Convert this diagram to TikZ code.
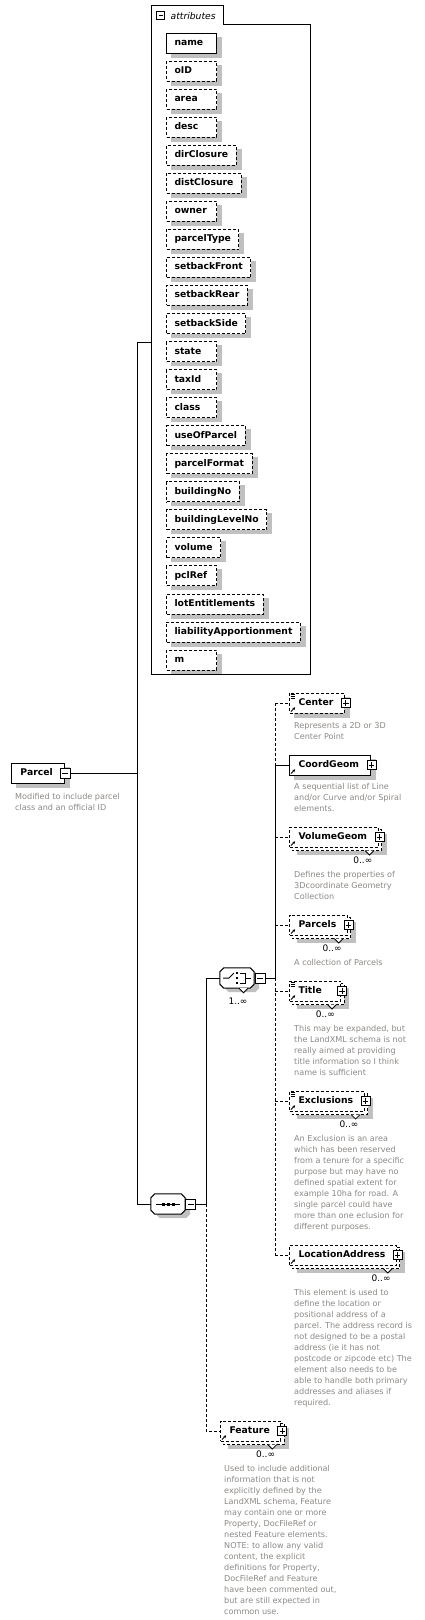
\documentclass[tikz,border=0pt]{standalone}
\usepackage{fontspec}
\setmainfont{DejaVu Sans}
\usetikzlibrary{arrows.meta,calc}
\definecolor{shadowgray}{RGB}{192,192,192}
\definecolor{descgray}{RGB}{140,136,132}
\pgfdeclarelayer{shadowlayer}
\pgfdeclarelayer{backlayer}
\pgfsetlayers{shadowlayer,backlayer,main}
\newsavebox\padbox
\newlength\padlen
\newcommand\padtext[4]{%
  \sbox\padbox{#4}%
  \setlength\padlen{\dimexpr\wd\padbox+#1+#2\relax}%
  \ifdim\padlen<#3\setlength\padlen{#3}\fi
  \hbox to \padlen{\hskip#1\usebox\padbox\hfil}}
\newcommand\lblfont{\bfseries\fontsize{9.25}{11}\selectfont}
\tikzset{
  every node/.style={inner sep=0pt},
  lbl/.style={font=\lblfont, text height=7pt, text depth=2pt, minimum height=20pt,
    anchor=west, fill=white, draw, line width=1pt},
  opt/.style={dash pattern=on 3pt off 2pt},
  conn/.style={line width=1pt},
  optconn/.style={line width=1pt, dash pattern=on 3pt off 2pt},
  desc/.style={font=\fontsize{8.1}{11}\selectfont, text=descgray, align=left, anchor=north west},
  mult/.style={font=\fontsize{9}{11}\selectfont, text height=7pt, text depth=2pt},
  minusbox/.style={draw, fill=white, line width=0.8pt, minimum size=10pt, inner sep=0pt,
    path picture={\draw[line width=1pt] ([xshift=2pt]path picture bounding box.west) -- ([xshift=-2pt]path picture bounding box.east);}},
  plusbox/.style={draw, fill=white, line width=0.8pt, minimum size=9pt, inner sep=0pt,
    path picture={\draw[line width=1pt] ([xshift=1.8pt]path picture bounding box.west) -- ([xshift=-1.8pt]path picture bounding box.east);
      \draw[line width=1pt] ([yshift=-1.8pt]path picture bounding box.north) -- ([yshift=1.8pt]path picture bounding box.south);}},
}
\newcommand\boxshadow[1]{\begin{pgfonlayer}{shadowlayer}\fill[shadowgray] ([shift={(5pt,-4pt)}]#1.north west) rectangle ([shift={(5pt,-4pt)}]#1.south east);\end{pgfonlayer}}
\newcommand\elemnode[5]{%
  \node[lbl,#5] (#1) at (#2,#3) {\padtext{9pt}{11pt}{51pt}{#4}};
  \node[plusbox] (#1p) at ([xshift=1pt]#1.east) {};
  \draw[-{Stealth[length=2.8pt,width=2.8pt]}, line width=0.8pt] ([shift={(2pt,2pt)}]#1.south west) -- ++(4.2pt,4.2pt);}
\newcommand\multiback[2]{%
  \begin{pgfonlayer}{shadowlayer}\fill[shadowgray] ([shift={(8pt,-7pt)}]#1.north west) rectangle ([shift={(8pt,-7pt)}]#1.south east);\end{pgfonlayer}
  \begin{pgfonlayer}{backlayer}
  \draw[line width=1pt, fill=white, #2] ([shift={(3pt,-3pt)}]#1.north west) rectangle ([shift={(3pt,-3pt)}]#1.south east);
  \draw[line width=0.8pt, fill=white] ([shift={(-13.5pt,-3pt)}]#1.south east) -- ++(4.5pt,-4.5pt) -- ++(4.5pt,4.5pt);
  \end{pgfonlayer}
  \node[mult, anchor=east] (#1m) at ([shift={(-6pt,-13pt)}]#1.south east) {0..∞};}
\newcommand\attricon[1]{\draw[line width=0.6pt] ([shift={(1.5pt,-1.5pt)}]#1.north west) -- ++(4.5pt,0pt) ([shift={(1.5pt,-3.5pt)}]#1.north west) -- ++(4.5pt,0pt) ([shift={(1.5pt,-5.5pt)}]#1.north west) -- ++(4.5pt,0pt);}
\newcommand\octa[2]{\draw[#2] ([xshift=4pt]#1.north west) -- ([xshift=-4pt]#1.north east) -- ([yshift=-4pt]#1.north east) -- ([yshift=4pt]#1.south east) -- ([xshift=-4pt]#1.south east) -- ([xshift=4pt]#1.south west) -- ([yshift=4pt]#1.south west) -- ([yshift=-4pt]#1.north west) -- cycle;}
\begin{document}
\begin{tikzpicture}[x=1pt,y=-1pt]
\useasboundingbox (0,0) rectangle (425,1620);
% attributes frame
\node[minimum width=159pt, minimum height=650pt, anchor=north west] (attrs) at (151,24) {};
\draw[line width=1pt] ([yshift=19pt]attrs.north west) -- ([xshift=72pt,yshift=19pt]attrs.north west) -- ([xshift=72pt]attrs.north west) -- (attrs.north east) -- (attrs.south east) -- (attrs.south west) -- cycle;
\node[minusbox, minimum size=8pt] (tabm) at (160.5,15.5) {};
\node[font=\itshape\fontsize{9.2}{11}\selectfont, text height=7pt, text depth=2pt, anchor=west] (tabt) at (170.5,16.5) {attributes};
% attributes
\node[lbl] (a0) at (166,43) {\padtext{8pt}{8pt}{50pt}{name}};
\foreach \t [count=\i] in {oID,area,desc,dirClosure,distClosure,owner,parcelType,setbackFront,setbackRear,setbackSide,state,taxId,class,useOfParcel,parcelFormat,buildingNo,buildingLevelNo,volume,pclRef,lotEntitlements,liabilityApportionment,m}
  {\node[lbl,opt] (a\i) at (166,{43+28.05*\i}) {\padtext{8pt}{8pt}{50pt}{\t}};}
\foreach \i in {0,...,22} {\boxshadow{a\i}}
% Parcel
\node[lbl] (parcel) at (11,773) {\padtext{9pt}{12pt}{51pt}{Parcel}};
\boxshadow{parcel}
\node[minusbox] (parcelm) at (parcel.east) {};
\node[desc] (dparcel) at ([shift={(4pt,-19pt)}]parcel.west) {\strut Modified to include parcel\\class and an official ID};
% junctions
\coordinate (j1top) at (137,342);
\coordinate (j1par) at (137,773);
\coordinate (j1seq) at (137,1204);
\draw[conn] (parcelm.east) -- (j1par);
\draw[conn] (j1top) -- (j1seq);
\draw[conn] (j1top) -- (j1top -| attrs.west);
% sequence
\node[minimum width=34pt, minimum height=20pt] (seq) at (168,1204) {};
\begin{pgfonlayer}{shadowlayer}\octa{seq}{fill=shadowgray, draw=none, transform canvas={shift={(5pt,-4pt)}}}\end{pgfonlayer}
\octa{seq}{fill=white, line width=1pt}
\draw[line width=1pt] (156,1204) -- (180,1204);
\fill (161.5,1202.5) rectangle +(3,3);
\fill (166.5,1202.5) rectangle +(3,3);
\fill (171.5,1202.5) rectangle +(3,3);
\node[minusbox] (seqm) at (190.5,1204) {};
\draw[conn] (j1seq) -- (seq.west);
\coordinate (j2seq) at (206,1204);
\coordinate (j2ch) at (206,978);
\coordinate (j2feat) at (206,1431);
\draw[conn] (seqm.east) -- (j2seq);
% choice
\node[minimum width=34pt, minimum height=20pt] (ch) at (237,978) {};
\begin{pgfonlayer}{shadowlayer}\octa{ch}{fill=shadowgray, draw=none, transform canvas={shift={(5pt,-4pt)}}}\end{pgfonlayer}
\octa{ch}{fill=white, line width=1pt}
\draw[line width=0.8pt, fill=white] ([xshift=2pt]ch.south) -- ++(4.5pt,-4.5pt) -- ++(4.5pt,4.5pt);
\draw[line width=1pt] (223,978) -- (229,978) -- (234,973);
\fill (235.5,971.8) rectangle +(2.6,2.6);
\fill (235.5,976.8) rectangle +(2.6,2.6);
\fill (235.5,981.8) rectangle +(2.6,2.6);
\draw[line width=1pt] (240,973) -- (245,973) -- (245,983) -- (240,983);
\draw[line width=1pt] (245,978) -- (251,978);
\node[minusbox] (chm) at (260,978) {};
\node[mult] (chmult) at (238,1002) {1..∞};
\draw[conn] (j2seq) -- (j2ch) -- (ch.west);
\coordinate (j3ch) at (275,978);
\draw[conn] (chm.east) -- (j3ch);
% children of choice
\elemnode{center}{289}{703}{Center}{opt}
\boxshadow{center}
\attricon{center}
\node[desc] (dcenter) at ([shift={(5pt,-18pt)}]center.west) {\strut Represents a 2D or 3D\\Center Point};

\elemnode{coord}{289}{765}{CoordGeom}{}
\boxshadow{coord}
\node[desc] (dcoord) at ([shift={(5pt,-17pt)}]coord.west) {\strut A sequential list of Line\\and/or Curve and/or Spiral\\elements.};

\elemnode{vol}{289}{837}{VolumeGeom}{opt}
\multiback{vol}{opt}
\node[desc] (dvol) at ([shift={(5pt,-33pt)}]vol.west) {\strut Defines the properties of\\3Dcoordinate Geometry\\Collection};

\elemnode{parcels}{289}{925}{Parcels}{opt}
\multiback{parcels}{opt}
\node[desc] (dparcels) at ([shift={(5pt,-33pt)}]parcels.west) {\strut A collection of Parcels};

\elemnode{title}{289}{991}{Title}{opt}
\multiback{title}{opt}
\attricon{title}
\node[desc] (dtitle) at ([shift={(5pt,-33pt)}]title.west) {\strut This may be expanded, but\\the LandXML schema is not\\really aimed at providing\\title information so I think\\name is sufficient};

\elemnode{excl}{289}{1101}{Exclusions}{opt}
\multiback{excl}{opt}
\attricon{excl}
\node[desc] (dexcl) at ([shift={(5pt,-33pt)}]excl.west) {\strut An Exclusion is an area\\which has been reserved\\from a tenure for a specific\\purpose but may have no\\defined spatial extent for\\example 10ha for road. A\\single parcel could have\\more than one eclusion for\\different purposes.};

\elemnode{loc}{289}{1255}{LocationAddress}{opt}
\multiback{loc}{opt}
\node[desc] (dloc) at ([shift={(5pt,-33pt)}]loc.west) {\strut This element is used to\\define the location or\\positional address of a\\parcel. The address record is\\not designed to be a postal\\address (ie it has not\\postcode or zipcode etc) The\\element also needs to be\\able to handle both primary\\addresses and aliases if\\required.};

\elemnode{feat}{220}{1431}{Feature}{opt}
\multiback{feat}{opt}
\node[desc] (dfeat) at ([shift={(4pt,-33pt)}]feat.west) {\strut Used to include additional\\information that is not\\explicitly defined by the\\LandXML schema, Feature\\may contain one or more\\Property, DocFileRef or\\nested Feature elements.\\NOTE: to allow any valid\\content, the explicit\\definitions for Property,\\DocFileRef and Feature\\have been commented out,\\but are still expected in\\common use.};

% choice connectors
\coordinate (j3center) at (275,703);
\coordinate (j3coord) at (275,765);
\coordinate (j3vol) at (275,837);
\coordinate (j3parcels) at (275,925);
\coordinate (j3title) at (275,991);
\coordinate (j3excl) at (275,1101);
\coordinate (j3loc) at (275,1255);
\draw[optconn] (j3center) -- (j3coord);
\draw[conn] (j3coord) -- (j3ch);
\draw[optconn] (j3ch) -- (j3loc);
\draw[optconn] (j3center) -- (center.west);
\draw[conn] (j3coord) -- (coord.west);
\draw[optconn] (j3vol) -- (vol.west);
\draw[optconn] (j3parcels) -- (parcels.west);
\draw[optconn] (j3title) -- (title.west);
\draw[optconn] (j3excl) -- (excl.west);
\draw[optconn] (j3loc) -- (loc.west);
% sequence to Feature
\draw[optconn] (j2seq) -- (j2feat) -- (feat.west);
\end{tikzpicture}
\end{document}
